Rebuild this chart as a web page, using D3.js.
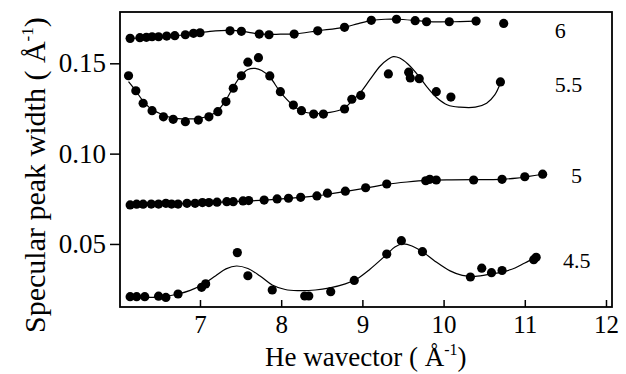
<!DOCTYPE html>
<html>
<head>
<meta charset="utf-8">
<script src="https://cdn.jsdelivr.net/npm/d3@7"></script>
<style>
  body { margin: 0; background: #fff; }
  svg text { font-family: "Liberation Serif", "DejaVu Serif", serif !important; fill: #000; }
</style>
</head>
<body>
<script>
// measured points, one array per series (x = He wavevector, y = peak width)
var x6 = [6.14,6.26,6.34,6.41,6.49,6.59,6.69,6.82,6.92,7.00,7.37,7.51,7.73,7.85,8.16,8.45,8.78,9.11,9.42,9.65,9.79,10.07,10.40,10.74];
var y6 = [0.1638,0.1642,0.1644,0.1647,0.1647,0.1651,0.1653,0.1658,0.1666,0.1669,0.1680,0.1677,0.1662,0.1658,0.1662,0.1680,0.1699,0.1738,0.1744,0.1736,0.1730,0.1730,0.1734,0.1721];

var x55 = [6.12,6.21,6.30,6.41,6.55,6.67,6.82,6.98,7.11,7.22,7.32,7.41,7.51,7.59,7.72,7.86,7.99,8.15,8.25,8.40,8.52,8.78,8.87,8.98,9.32,9.57,9.59,9.70,9.91,10.09,10.70];
var y55 = [0.1431,0.1348,0.1279,0.1238,0.1204,0.1190,0.1177,0.1186,0.1204,0.1232,0.1288,0.1362,0.1431,0.1506,0.1531,0.1430,0.1343,0.1269,0.1238,0.1219,0.1219,0.1247,0.1301,0.1322,0.1441,0.1451,0.1419,0.1415,0.1343,0.1313,0.1397];

var x5 = [6.14,6.22,6.30,6.40,6.49,6.58,6.65,6.73,6.84,6.94,7.03,7.11,7.21,7.33,7.41,7.53,7.60,7.79,7.95,8.09,8.24,8.44,8.57,8.79,9.04,9.30,9.78,9.83,9.91,10.37,10.72,11.00,11.22];
var y5 = [0.0716,0.0720,0.0720,0.0721,0.0721,0.0725,0.0721,0.0721,0.0725,0.0725,0.0729,0.0729,0.0731,0.0734,0.0734,0.0738,0.0740,0.0743,0.0749,0.0753,0.0758,0.0766,0.0781,0.0792,0.0811,0.0832,0.0850,0.0858,0.0854,0.0854,0.0858,0.0872,0.0886];

var x45 = [6.14,6.22,6.32,6.49,6.58,6.73,7.02,7.07,7.46,7.59,7.89,8.29,8.34,8.61,8.90,9.30,9.48,9.74,10.33,10.47,10.59,10.72,11.11,11.14];
var y45 = [0.0208,0.0208,0.0208,0.0211,0.0204,0.0223,0.0260,0.0279,0.0452,0.0324,0.0245,0.0212,0.0212,0.0236,0.0298,0.0444,0.0518,0.0457,0.0317,0.0366,0.0341,0.0353,0.0413,0.0426];

// fitted curves
var fit6X = [6.14,6.51,6.82,7.00,7.19,7.37,7.51,7.64,7.76,7.99,8.17,8.45,8.77,8.95,9.12,9.28,9.43,9.65,9.80,10.07,10.40];
var fit6Y = [0.1638,0.1647,0.1658,0.1670,0.1680,0.1682,0.1679,0.1668,0.1661,0.1661,0.1663,0.1680,0.1699,0.1720,0.1738,0.1744,0.1744,0.1737,0.1731,0.1730,0.1734];

var fit55X = [6.12,6.21,6.30,6.41,6.55,6.67,6.82,6.98,7.11,7.22,7.32,7.41,7.51,7.59,7.68,7.76,7.86,7.99,8.15,8.25,8.42,8.60,8.78,8.87,8.98,9.09,9.22,9.32,9.38,9.46,9.56,9.70,9.81,9.92,10.05,10.20,10.39,10.53,10.63,10.70];
var fit55Y = [0.1398,0.1347,0.1291,0.1244,0.1214,0.1197,0.1192,0.1195,0.1208,0.1239,0.1297,0.1369,0.1435,0.1466,0.1472,0.1460,0.1424,0.1341,0.1266,0.1236,0.1222,0.1228,0.1253,0.1291,0.1341,0.1408,0.1485,0.1524,0.1537,0.1529,0.1496,0.1426,0.1361,0.1308,0.1269,0.1257,0.1257,0.1279,0.1325,0.1391];

var fit5X = [6.14,6.60,7.00,7.40,7.80,8.20,8.45,8.60,8.80,9.05,9.30,9.55,9.80,10.10,10.40,10.70,10.90,11.05,11.22];
var fit5Y = [0.0718,0.0722,0.0727,0.0734,0.0743,0.0756,0.0767,0.0777,0.0791,0.0810,0.0830,0.0843,0.0852,0.0855,0.0856,0.0858,0.0864,0.0874,0.0886];

var fit45X = [6.14,6.32,6.51,6.73,6.88,7.02,7.19,7.32,7.45,7.59,7.74,7.89,8.05,8.21,8.42,8.60,8.79,8.93,9.09,9.30,9.40,9.50,9.61,9.74,9.89,10.08,10.23,10.39,10.59,10.74,10.88,11.00,11.12];
var fit45Y = [0.0205,0.0205,0.0206,0.0223,0.0243,0.0273,0.0323,0.0362,0.0378,0.0364,0.0323,0.0273,0.0248,0.0242,0.0245,0.0257,0.0279,0.0306,0.0359,0.0442,0.0483,0.0500,0.0489,0.0457,0.0406,0.0351,0.0326,0.0320,0.0334,0.0347,0.0367,0.0395,0.0420];

// series labels on the right
var labelText = ["6", "5.5", "5", "4.5"];
var labelX = [11.37, 11.37, 11.57, 11.47];
var labelY = [0.1638, 0.1343, 0.0839, 0.0366];

var xTicks = [7, 8, 9, 10, 11, 12];
var yTicks = [0.05, 0.10, 0.15];

var W = 626, H = 374;
var margin = {top: 12, right: 14, bottom: 67, left: 120};
var w = W - margin.left - margin.right;
var h = H - margin.top - margin.bottom;
var serif = "'Liberation Serif', 'DejaVu Serif', serif";

var svg = d3.select("body").append("svg")
    .attr("width", W)
    .attr("height", H);

var g = svg.append("g")
    .attr("transform", "translate(" + margin.left + "," + margin.top + ")");

var x = d3.scaleLinear().domain([6.015, 12.074]).range([0, w]);
var y = d3.scaleLinear().domain([0.0151, 0.1784]).range([h, 0]);

// axes
var xAxis = g.append("g")
    .attr("transform", "translate(0," + h + ")")
    .call(d3.axisBottom(x).tickValues(xTicks).tickFormat(d3.format("d"))
        .tickSizeInner(-7).tickSizeOuter(0).tickPadding(8))
    .attr("font-family", serif);
xAxis.select(".domain").remove();
xAxis.selectAll("line").attr("stroke", "#000").attr("stroke-width", 1.5);
xAxis.selectAll("text").attr("font-size", 25).style("font-family", serif);

var yAxis = g.append("g")
    .call(d3.axisLeft(y).tickValues(yTicks).tickFormat(d3.format(".2f"))
        .tickSizeInner(10).tickSizeOuter(0).tickPadding(4))
    .attr("font-family", serif);
yAxis.select(".domain").remove();
yAxis.selectAll("line").attr("stroke", "#000").attr("stroke-width", 1.5);
yAxis.selectAll("text").attr("font-size", 27).style("font-family", serif);

// frame
g.append("rect")
    .attr("x", 0).attr("y", 0)
    .attr("width", w).attr("height", h)
    .attr("fill", "none")
    .attr("stroke", "#000")
    .attr("stroke-width", 1.8);

var line = d3.line()
    .x(function(d) { return x(d[0]); })
    .y(function(d) { return y(d[1]); })
    .curve(d3.curveCatmullRom.alpha(0.5));

var fits = [[fit6X, fit6Y], [fit55X, fit55Y], [fit5X, fit5Y], [fit45X, fit45Y]];
fits.forEach(function(f) {
  g.append("path")
      .datum(d3.zip(f[0], f[1]))
      .attr("d", line)
      .attr("fill", "none")
      .attr("stroke", "#000")
      .attr("stroke-width", 1.2);
});

var series = [[x6, y6], [x55, y55], [x5, y5], [x45, y45]];
series.forEach(function(s) {
  g.append("g").selectAll("circle")
      .data(d3.zip(s[0], s[1]))
      .enter()
      .append("circle")
      .attr("cx", function(d) { return x(d[0]); })
      .attr("cy", function(d) { return y(d[1]); })
      .attr("r", 4.6)
      .attr("fill", "#000");
});

// labels for each curve
g.selectAll(".lbl")
    .data(labelText)
    .enter()
    .append("text")
    .attr("class", "lbl")
    .attr("x", function(d, i) { return x(labelX[i]); })
    .attr("y", function(d, i) { return y(labelY[i]); })
    .attr("font-size", 22)
    .style("font-family", serif)
    .text(function(d) { return d; });

// x title
var xt = svg.append("text")
    .attr("x", 265)
    .attr("y", 366)
    .attr("font-size", 27)
    .style("font-family", serif);
xt.append("tspan").text("He wavector ( Å");
xt.append("tspan").attr("font-size", 16).attr("dy", -11).text("-1");
xt.append("tspan").attr("dy", 11).text(")");

// y title
var yt = svg.append("text")
    .attr("transform", "translate(45,333) rotate(-90)")
    .attr("x", 0)
    .attr("y", 0)
    .attr("font-size", 30)
    .style("font-family", serif);
yt.append("tspan").text("Specular peak width ( Å");
yt.append("tspan").attr("font-size", 17).attr("dy", -12).text("-1");
yt.append("tspan").attr("dy", 12).text(")");
</script>
</body>
</html>
